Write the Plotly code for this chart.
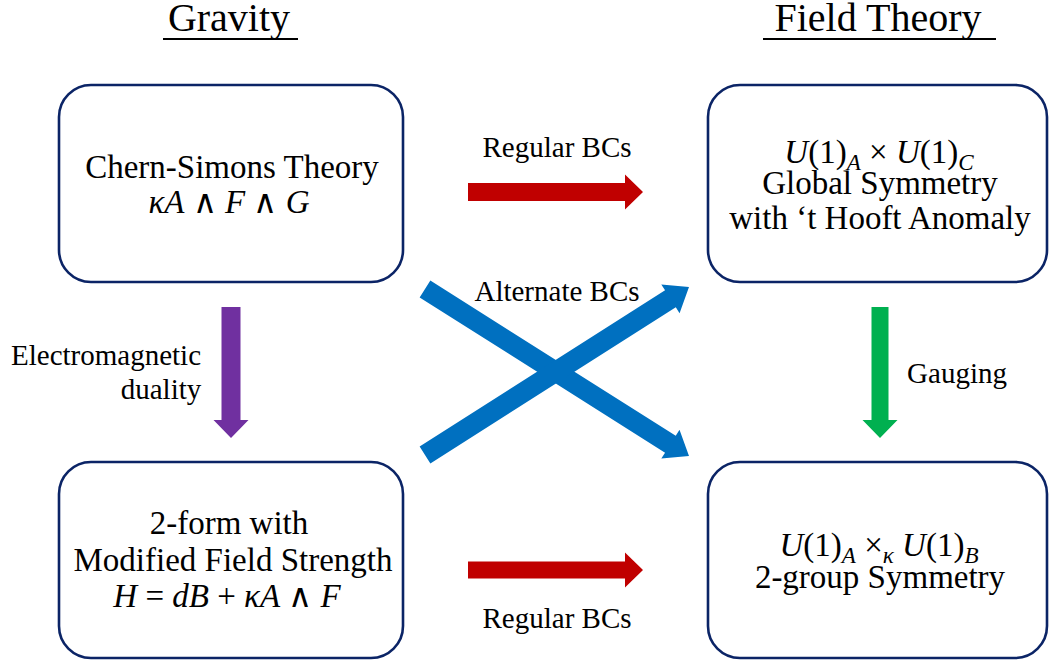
import plotly.graph_objects as go
import math

W, H = 1049, 665

# ---- text content ----
titles = ["Gravity", "Field Theory"]
box_lines_tl = ["Chern-Simons Theory", "<i>κA</i> ∧ <i>F</i> ∧ <i>G</i>"]
box_lines_tr = ["<i>U</i>(1)<sub><i>A</i></sub> × <i>U</i>(1)<sub><i>C</i></sub>",
                "Global Symmetry", "with ‘t Hooft Anomaly"]
box_lines_bl = ["2-form with", "Modified Field Strength",
                "<i>H</i> = <i>dB</i> + <i>κA</i> ∧ <i>F</i>"]
box_lines_br = ["<i>U</i>(1)<sub><i>A</i></sub> ×<sub><i>κ</i></sub> <i>U</i>(1)<sub><i>B</i></sub>",
                "2-group Symmetry"]
arrow_labels = ["Regular BCs", "Regular BCs", "Alternate BCs", "Electromagnetic", "duality", "Gauging"]

# ---- layout geometry (pixels) ----
title_pos = [(229, 21), (878, 21)]
boxes = [(59, 85, 403, 282), (708, 85, 1047, 282), (59, 462, 403, 658), (708, 462, 1047, 658)]
box_text_pos = [
    [(232, 170), (229, 205)],
    [(879, 155), (880, 186), (880, 221)],
    [(229, 526), (233, 563), (227, 599)],
    [(879, 548), (880, 580)],
]
label_pos = [(557, 150), (557, 621), (557, 294), (106, 358), (161, 392), (957, 376)]
NAVY = "#0B2466"
RED = "#C00000"
PURPLE = "#7030A0"
GREEN = "#00B050"
BLUE = "#0070C0"

# arrows: start, end, shaft width, head width, head length, colour
arrows = [
    ((468, 192), (643, 192), 18, 35, 18, RED),
    ((468, 570), (643, 570), 17, 35, 18, RED),
    ((231, 307), (231, 438), 19, 35, 18, PURPLE),
    ((880, 307), (880, 438), 17, 35, 18, GREEN),
    ((425, 289), (689, 456), 20, 34, 22, BLUE),
    ((425, 455), (689, 287), 20, 34, 22, BLUE),
]


def arrow_path(p0, p1, sw, hw, hl):
    x0, y0 = p0
    x1, y1 = p1
    L = math.hypot(x1 - x0, y1 - y0)
    ux, uy = (x1 - x0) / L, (y1 - y0) / L
    nx, ny = -uy, ux
    bx, by = x1 - ux * hl, y1 - uy * hl
    pts = [
        (x0 + nx * sw / 2, y0 + ny * sw / 2),
        (bx + nx * sw / 2, by + ny * sw / 2),
        (bx + nx * hw / 2, by + ny * hw / 2),
        (x1, y1),
        (bx - nx * hw / 2, by - ny * hw / 2),
        (bx - nx * sw / 2, by - ny * sw / 2),
        (x0 - nx * sw / 2, y0 - ny * sw / 2),
    ]
    return "M " + " L ".join(f"{x:.2f},{y:.2f}" for x, y in pts) + " Z"


def rounded_rect(x0, y0, x1, y1, r):
    k = 0.5523 * r
    return (f"M {x0+r},{y0} L {x1-r},{y0} C {x1-r+k},{y0} {x1},{y0+r-k} {x1},{y0+r} "
            f"L {x1},{y1-r} C {x1},{y1-r+k} {x1-r+k},{y1} {x1-r},{y1} "
            f"L {x0+r},{y1} C {x0+r-k},{y1} {x0},{y1-r+k} {x0},{y1-r} "
            f"L {x0},{y0+r} C {x0},{y0+r-k} {x0+r-k},{y0} {x0+r},{y0} Z")


fig = go.Figure()

shapes = []
for (p0, p1, sw, hw, hl, col) in arrows:
    shapes.append(dict(type="path", path=arrow_path(p0, p1, sw, hw, hl), xref="x", yref="y",
                       fillcolor=col, line=dict(width=0), layer="below"))
for (x0, y0, x1, y1) in boxes:
    shapes.append(dict(type="path", path=rounded_rect(x0, y0, x1, y1, 32), xref="x", yref="y",
                       line=dict(color=NAVY, width=2.6), layer="below"))
for (xa, xb) in [(163, 298), (763, 996)]:
    shapes.append(dict(type="line", x0=xa, x1=xb, y0=39, y1=39, xref="x", yref="y",
                       line=dict(color="black", width=2), layer="below"))

SERIF = "Liberation Serif"


def add_texts(texts, positions, size):
    fig.add_trace(go.Scatter(
        x=[p[0] for p in positions], y=[p[1] for p in positions], text=texts,
        mode="text", textposition="middle center", hoverinfo="skip", showlegend=False,
        textfont=dict(family=SERIF, size=size, color="black")))


add_texts(titles, title_pos, 40)
add_texts(box_lines_tl + box_lines_tr + box_lines_bl + box_lines_br,
          [p for grp in box_text_pos for p in grp], 33)
add_texts(arrow_labels, label_pos, 29)

fig.update_layout(
    width=W, height=H, margin=dict(l=0, r=0, t=0, b=0),
    paper_bgcolor="white", plot_bgcolor="white",
    font=dict(family=SERIF),
    xaxis=dict(range=[0, W], visible=False),
    yaxis=dict(range=[H, 0], visible=False),
    shapes=shapes, showlegend=False,
)
fig.write_html("out.html", config=dict(displayModeBar=False),
               post_script="document.body.style.margin='0';")
